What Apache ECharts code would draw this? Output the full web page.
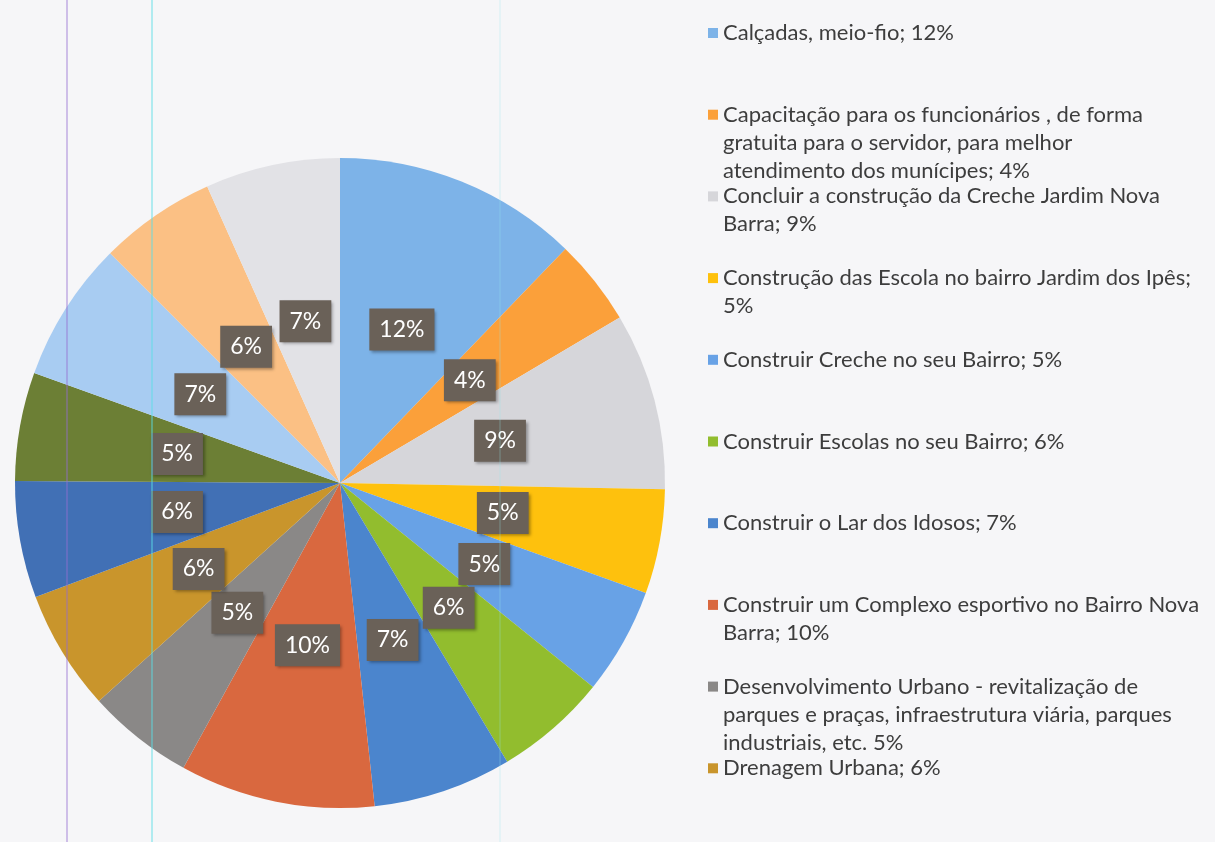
<!DOCTYPE html>
<html>
<head>
<meta charset="utf-8">
<style>
  html, body { margin: 0; padding: 0; background: #f6f6f8; }
  #chart { width: 1215px; height: 842px; }
</style>
<script src="https://cdn.jsdelivr.net/npm/echarts@6/dist/echarts.min.js"></script>
</head>
<body>
<div id="chart"></div>
<script>
// slice names, clockwise from 12 o'clock (the last five are not in the visible legend)
const categories = [
  'Calçadas, meio-fio',
  'Capacitação para os funcionários , de forma gratuita para o servidor, para melhor atendimento dos munícipes',
  'Concluir a construção da Creche Jardim Nova Barra',
  'Construção das Escola no bairro Jardim dos Ipês',
  'Construir Creche no seu Bairro',
  'Construir Escolas no seu Bairro',
  'Construir o Lar dos Idosos',
  'Construir um Complexo esportivo no Bairro Nova Barra',
  'Desenvolvimento Urbano - revitalização de parques e praças, infraestrutura viária, parques industriais, etc.',
  'Drenagem Urbana',
  'Item 11',
  'Item 12',
  'Item 13',
  'Item 14',
  'Item 15'
]
const values = [12.2, 4.3, 8.8, 5.2, 5.3, 5.6, 6.9, 9.7, 5.3, 6.0, 5.8, 5.4, 7.0, 5.8, 6.7]

// legend text as printed (with its line breaks)
const legendText = [
  'Calçadas, meio-fio; 12%',
  'Capacitação para os funcionários , de forma\ngratuita para o servidor, para melhor\natendimento dos munícipes; 4%',
  'Concluir a construção da Creche Jardim Nova\nBarra; 9%',
  'Construção das Escola no bairro Jardim dos Ipês;\n5%',
  'Construir Creche no seu Bairro; 5%',
  'Construir Escolas no seu Bairro; 6%',
  'Construir o Lar dos Idosos; 7%',
  'Construir um Complexo esportivo no Bairro Nova\nBarra; 10%',
  'Desenvolvimento Urbano - revitalização de\nparques e praças, infraestrutura viária, parques\nindustriais, etc. 5%',
  'Drenagem Urbana; 6%'
]

const PALETTE = [
  '#7db3e8', '#fba03a', '#d6d6da', '#fec10d', '#68a2e6',
  '#92bd2e', '#4b85cd', '#d9683f', '#8a8887', '#c9952c',
  '#4170b5', '#6c7f35', '#a8ccf2', '#fbc084', '#e2e2e6'
]

const LINE_H = 28
const SLOT_TOP = 33
const SLOT_STEP = 81.7

// one legend block per entry, so each sits in its own slot like the original
const legends = legendText.map((txt, i) => {
  const n = txt.split('\n').length
  const center = SLOT_TOP + i * SLOT_STEP
  return {
    orient: 'vertical',
    left: 708,
    top: center - (n - 0.5) * LINE_H,
    padding: 0,
    itemWidth: 10,
    itemHeight: 10,
    icon: 'rect',
    selectedMode: false,
    data: [categories[i]],
    // pad with blank lines on top so the square lines up with the first line
    formatter: () => '\n'.repeat(n - 1) + txt,
    textStyle: {
      fontFamily: 'Lato',
      fontSize: 22,
      lineHeight: LINE_H,
      color: '#3d3d3d'
    }
  }
})

const chart = echarts.init(document.getElementById('chart'), null, { renderer: 'canvas' })

chart.setOption({
  backgroundColor: '#f6f6f8',
  animation: false,
  color: PALETTE,
  legend: legends,
  series: [
    {
      type: 'pie',
      center: [340, 483],
      radius: 325,
      startAngle: 90,
      clockwise: true,
      avoidLabelOverlap: false,
      emphasis: { disabled: true },
      itemStyle: { borderWidth: 0 },
      label: {
        show: true,
        position: 'inside',
        formatter: (p) => Math.round(p.percent) + '%',
        fontFamily: 'Lato',
        fontSize: 23,
        color: '#ffffff',
        backgroundColor: '#6a6158',
        padding: [10, 10, 9, 10],
        shadowColor: 'rgba(0,0,0,0.35)',
        shadowBlur: 3,
        shadowOffsetX: 2,
        shadowOffsetY: 2
      },
      labelLine: { show: false },
      data: categories.map((name, i) => ({ name, value: values[i] }))
    }
  ],
  // faint scanner streaks visible in the original
  graphic: [
    { type: 'line', z: 100, shape: { x1: 67, y1: 0, x2: 67, y2: 842 }, style: { stroke: 'rgba(150,110,210,0.55)', lineWidth: 1.5 } },
    { type: 'line', z: 100, shape: { x1: 152, y1: 0, x2: 152, y2: 842 }, style: { stroke: 'rgba(90,220,230,0.6)', lineWidth: 1.5 } },
    { type: 'line', z: 100, shape: { x1: 500, y1: 0, x2: 500, y2: 842 }, style: { stroke: 'rgba(150,230,235,0.35)', lineWidth: 1 } }
  ]
})
</script>
</body>
</html>
